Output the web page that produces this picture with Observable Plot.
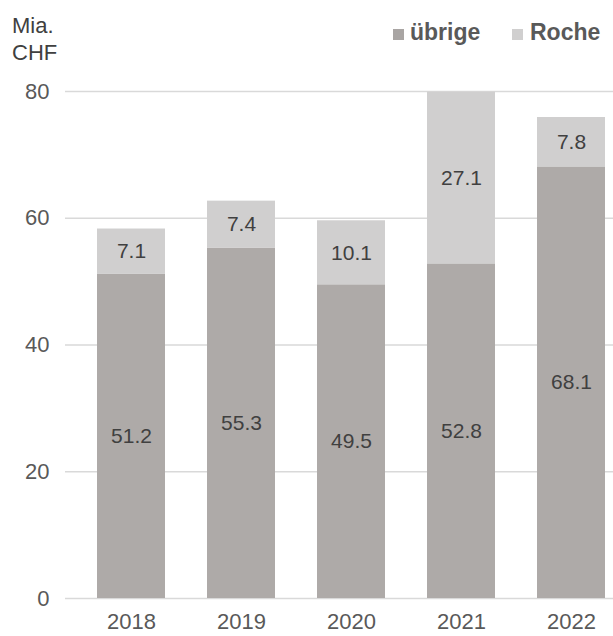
<!DOCTYPE html>
<html>
<head>
<meta charset="utf-8">
<script src="https://cdn.jsdelivr.net/npm/d3@7"></script>
<script src="https://cdn.jsdelivr.net/npm/@observablehq/plot@0.6"></script>
<style>
  body { margin: 0; background: #fff; font-family: "Liberation Sans", Arial, sans-serif; }
  #wrap { position: relative; width: 613px; height: 636px; }
  #unit { position: absolute; left: 12px; top: 12px; font-size: 22px; line-height: 27px; color: #404040; }
  .sw { position: absolute; width: 11px; height: 11px; }
  .lt { position: absolute; font-size: 23px; line-height: 23px; font-weight: bold; color: #595959; }
  #chart { position: absolute; left: 0; top: 70px; }
</style>
</head>
<body>
<div id="wrap">
  <div id="unit">Mia.<br>CHF</div>
  <div class="sw" style="left:393px;top:29px;background:#a9a5a3"></div>
  <div class="lt" style="left:410px;top:21px">übrige</div>
  <div class="sw" style="left:512px;top:29px;background:#d0cfcf"></div>
  <div class="lt" style="left:530px;top:21px">Roche</div>
  <div id="chart"></div>
</div>
<script>
const years = ["2018", "2019", "2020", "2021", "2022"];
const uebrige = [51.2, 55.3, 49.5, 52.8, 68.1];
const roche = [7.1, 7.4, 10.1, 27.1, 7.8];
const seriesNames = ["übrige", "Roche"];
const yTicks = [0, 20, 40, 60, 80];

const data = [
  ...years.map((y, i) => ({year: y, series: "übrige", value: uebrige[i]})),
  ...years.map((y, i) => ({year: y, series: "Roche", value: roche[i]}))
];

const chart = Plot.plot({
  width: 613,
  height: 566,
  marginLeft: 65,
  marginRight: 0,
  marginTop: 21,
  marginBottom: 38,
  style: {fontFamily: "'Liberation Sans', Arial, sans-serif", background: "transparent"},
  x: {domain: years, paddingInner: 0.378, paddingOuter: 0.16, align: 0.82, label: null},
  y: {domain: [0, 80], label: null},
  color: {domain: seriesNames, range: ["#aeaaa8", "#d0cfcf"]},
  marks: [
    Plot.ruleY(yTicks, {stroke: "#d9d9d9", strokeWidth: 1.5}),
    Plot.barY(data, Plot.stackY({x: "year", y: "value", fill: "series", z: "series"})),
    Plot.text(data, Plot.stackY({x: "year", y: "value", z: "series",
      text: d => d3.format(".1f")(d.value), fill: "#404040", fontSize: 21})),
    Plot.axisY({ticks: yTicks, tickSize: 0, tickPadding: 16, fontSize: 22, color: "#595959", label: null}),
    Plot.axisX({tickSize: 0, tickPadding: 15, fontSize: 22, color: "#595959", label: null})
  ]
});
document.getElementById("chart").appendChild(chart);
</script>
</body>
</html>
